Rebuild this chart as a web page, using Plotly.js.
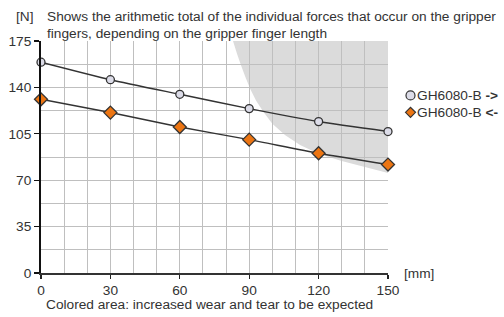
<!DOCTYPE html>
<html>
<head>
<meta charset="utf-8">
<script src="https://cdn.plot.ly/plotly-3.0.1.min.js"></script>
<style>html,body{margin:0;padding:0;background:#fff;}#chart{width:504px;height:317px;}</style>
</head>
<body>
<div id="chart"></div>
<script>
// ---- data ----
const fingerLength = [0, 30, 60, 90, 120, 150];            // [mm]
const forceOuter = [159, 145.8, 134.8, 124, 114.2, 106.7]; // GH6080-B ->
const forceInner = [131, 121, 110.1, 100.6, 90.3, 81.8];   // GH6080-B <-
const seriesNames = ['GH6080-B <b>-></b>', 'GH6080-B <b><-</b>'];
// boundary of the coloured (increased wear) area
const wearX = [83, 84.8, 86.5, 88.3, 90.4, 93, 96.2, 100, 105.6, 112, 120, 130, 140, 150];
const wearY = [175, 165, 156.5, 148, 139, 130, 121.5, 112.5, 104, 96.5, 90, 84.5, 80, 75.5];
const xTicks = [0, 30, 60, 90, 120, 150];
const yTicks = [0, 35, 70, 105, 140, 175];
const xMax = 150, yMax = 175;

// ---- layout helpers ----
const W = 504, H = 317, L = 41, R = 388, T = 40.5, B = 273;
const px = x => (x - L) / (R - L);
const py = y => (B - y) / (B - T);
const FONT = 'Liberation Sans, Arial, sans-serif';
const FS = 13.7;
const TXT = '#333';
const GRID = '#bfbfbf';

// y axis is linear on [0, yMax] over the full plot height, so y / yMax is its paper fraction
const yFrac = v => v / yMax;
let path = 'M ' + wearX[0] + ' ' + yFrac(wearY[0]);
for (let i = 1; i < wearX.length; i++) path += ' L ' + wearX[i] + ' ' + yFrac(wearY[i]);
path += ' L ' + xMax + ' ' + yFrac(yMax) + ' Z';

const lineStyle = {color: '#333', width: 1.5, shape: 'spline', smoothing: 0.6};
const traces = [
  {x: fingerLength, y: forceOuter, mode: 'lines+markers', name: seriesNames[0], showlegend: false, cliponaxis: false,
   line: lineStyle, marker: {symbol: 'circle', size: 8, color: '#dcdce8', line: {color: '#333', width: 1.3}}},
  {x: fingerLength, y: forceInner, mode: 'lines+markers', name: seriesNames[1], showlegend: false, cliponaxis: false,
   line: lineStyle, marker: {symbol: 'diamond', size: 10, color: '#ec7512', line: {color: '#333', width: 1.3}}}
];

const legendY = [95, 112];
const shapes = [
  {type: 'path', xref: 'x', yref: 'paper', path: path, fillcolor: '#dbdbdb', line: {width: 0}, layer: 'below'},
  {type: 'circle', xref: 'paper', yref: 'paper', xsizemode: 'pixel', ysizemode: 'pixel',
   xanchor: px(410.5), yanchor: py(legendY[0]), x0: -4.5, x1: 4.5, y0: -4.5, y1: 4.5,
   fillcolor: '#dcdce8', line: {color: '#333', width: 1.2}},
  {type: 'path', xref: 'paper', yref: 'paper', xsizemode: 'pixel', ysizemode: 'pixel',
   xanchor: px(410.5), yanchor: py(legendY[1]), path: 'M -5 0 L 0 5 L 5 0 L 0 -5 Z',
   fillcolor: '#ec7512', line: {color: '#333', width: 1.2}}
];

const ann = (x, y, text, opts) => Object.assign({xref: 'paper', yref: 'paper', x: px(x), y: py(y), text: text,
  showarrow: false, xanchor: 'left', yanchor: 'middle', font: {family: FONT, size: FS, color: TXT}}, opts || {});

const annotations = [
  ann(14, 16, '[N]'),
  ann(45, 16, 'Shows the arithmetic total of the individual forces that occur on the gripper'),
  ann(45, 33, 'fingers, depending on the gripper finger length'),
  ann(44, 305, 'Colored area: increased wear and tear to be expected'),
  ann(402, 273, '[mm]'),
  ann(415, legendY[0], seriesNames[0]),
  ann(415, legendY[1], seriesNames[1])
];

const layout = {
  width: W, height: H,
  margin: {l: L, r: W - R, t: T, b: H - B, pad: 0},
  paper_bgcolor: '#fff', plot_bgcolor: 'rgba(0,0,0,0)',
  showlegend: false,
  font: {family: FONT, size: FS, color: TXT},
  xaxis: {range: [0, xMax], tickvals: xTicks, ticks: 'outside', ticklen: 4, tickcolor: '#222', tickwidth: 1.2,
    showline: true, linecolor: '#333', linewidth: 2, zeroline: false,
    showgrid: true, gridcolor: GRID, gridwidth: 1,
    minor: {dtick: 10, showgrid: true, gridcolor: GRID, gridwidth: 1, ticks: ''},
    tickfont: {family: FONT, size: FS, color: TXT}, fixedrange: true},
  yaxis: {range: [0, yMax], tickvals: yTicks, ticks: 'outside', ticklen: 5, tickcolor: '#111', tickwidth: 1.2,
    showline: true, linecolor: '#111', linewidth: 2, zeroline: false,
    showgrid: true, gridcolor: GRID, gridwidth: 1,
    minor: {dtick: 17.5, showgrid: true, gridcolor: GRID, gridwidth: 1, ticks: ''},
    tickfont: {family: FONT, size: FS, color: TXT}, fixedrange: true},
  shapes: shapes,
  annotations: annotations
};

Plotly.newPlot('chart', traces, layout, {displayModeBar: false, staticPlot: true});
</script>
</body>
</html>
